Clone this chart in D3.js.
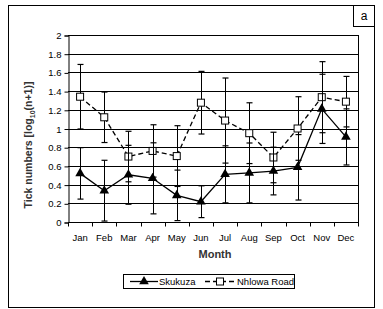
<!DOCTYPE html>
<html>
<head>
<meta charset="UTF-8" />
<title>Tick numbers by month</title>
<script src="https://cdn.jsdelivr.net/npm/d3@7/dist/d3.min.js"></script>
<style>
  html, body { margin: 0; padding: 0; background: #fff; }
  svg { display: block; font-family: "Liberation Sans", Arial, sans-serif; }
</style>
</head>
<body>
<div id="chart"></div>
<script>
// data
const months = ["Jan","Feb","Mar","Apr","May","Jun","Jul","Aug","Sep","Oct","Nov","Dec"];
const skukuza     = [0.52, 0.335, 0.505, 0.467, 0.285, 0.217, 0.51, 0.525, 0.545, 0.585, 1.21, 0.91];
const skukuzaErr  = [0.275, 0.325, 0.315, 0.38, 0.27, 0.17, 0.305, 0.32, 0.255, 0.35, 0.37, 0.30];
const nhlowa      = [1.34, 1.12, 0.70, 0.76, 0.705, 1.276, 1.085, 0.95, 0.69, 1.00, 1.335, 1.287];
const nhlowaErr   = [0.345, 0.27, 0.27, 0.28, 0.325, 0.335, 0.455, 0.325, 0.27, 0.34, 0.38, 0.27];
const yTicks = [0, 0.2, 0.4, 0.6, 0.8, 1, 1.2, 1.4, 1.6, 1.8, 2];

const W = 383, H = 309;
const plot = { left: 68, right: 358, top: 35, bottom: 222 };

const svg = d3.select("#chart").append("svg")
  .attr("width", W).attr("height", H);

// outer frame + panel letter
svg.append("rect").attr("x", 8.5).attr("y", 5.5).attr("width", 366).attr("height", 302)
  .attr("fill", "none").attr("stroke", "#000");
svg.append("rect").attr("x", 353.5).attr("y", 5.5).attr("width", 21).attr("height", 21)
  .attr("fill", "none").attr("stroke", "#000");
svg.append("text").attr("x", 364).attr("y", 20).attr("text-anchor", "middle")
  .attr("font-size", 12).text("a");

const x = d3.scaleBand().domain(months).range([plot.left, plot.right]);
const y = d3.scaleLinear().domain([0, 2]).range([plot.bottom, plot.top]);
const cx = m => x(m) + x.bandwidth() / 2;

// gridlines
svg.append("g").selectAll("line").data(yTicks.slice(1)).enter().append("line")
  .attr("x1", plot.left).attr("x2", plot.right)
  .attr("y1", d => Math.round(y(d)) + 0.5).attr("y2", d => Math.round(y(d)) + 0.5)
  .attr("stroke", "#000");
svg.append("line").attr("x1", plot.right + 0.5).attr("x2", plot.right + 0.5)
  .attr("y1", plot.top).attr("y2", plot.bottom).attr("stroke", "#000");

// y axis
const yAxis = svg.append("g").attr("transform", `translate(${plot.left + 0.5},0.5)`)
  .call(d3.axisLeft(y).tickValues(yTicks).tickSize(4).tickPadding(3).tickFormat(d3.format("~g")));
yAxis.select(".domain").attr("stroke", "#000");
yAxis.selectAll("text").attr("font-size", 9.5).attr("fill", "#000")
  .attr("font-family", "Liberation Sans, Arial, sans-serif");

// x axis: ticks on band edges
const xAxis = svg.append("g").attr("transform", `translate(0,${plot.bottom + 0.5})`);
xAxis.append("line").attr("x1", plot.left).attr("x2", plot.right + 1).attr("stroke", "#000");
xAxis.selectAll("line.tk").data(d3.range(13)).enter().append("line").attr("class", "tk")
  .attr("x1", i => Math.round(plot.left + i * x.step()) + 0.5)
  .attr("x2", i => Math.round(plot.left + i * x.step()) + 0.5)
  .attr("y1", 0).attr("y2", 4).attr("stroke", "#000");
xAxis.selectAll("text").data(months).enter().append("text")
  .attr("x", cx).attr("y", 18).attr("text-anchor", "middle")
  .attr("font-size", 9.5).attr("fill", "#000").text(d => d);

// axis titles
svg.append("text").attr("x", 215).attr("y", 258).attr("text-anchor", "middle")
  .attr("font-size", 11).attr("font-weight", "bold").attr("fill", "#333").text("Month");
const yt = svg.append("text").attr("transform", "translate(32,145) rotate(-90)")
  .attr("text-anchor", "middle").attr("font-size", 10.5).attr("font-weight", "bold").attr("fill", "#333");
yt.append("tspan").text("Tick numbers [log");
yt.append("tspan").attr("font-size", 7).attr("dy", 3).text("10");
yt.append("tspan").attr("dy", -3).text("(n+1)]");

function series(vals, errs, dashed, marker) {
  const g = svg.append("g");
  // error bars
  months.forEach((m, i) => {
    const lo = y(vals[i] - errs[i]), hi = y(vals[i] + errs[i]), px = Math.round(cx(m)) + 0.5;
    g.append("line").attr("x1", px).attr("x2", px).attr("y1", lo).attr("y2", hi).attr("stroke", "#000");
    [lo, hi].forEach(v => g.append("line").attr("x1", px - 3).attr("x2", px + 3)
      .attr("y1", v).attr("y2", v).attr("stroke", "#000").attr("stroke-width", 1.2));
  });
  const line = d3.line().x((d, i) => cx(months[i])).y(d => y(d));
  g.append("path").datum(vals).attr("d", line).attr("fill", "none").attr("stroke", "#000")
    .attr("stroke-width", 1.3).attr("stroke-dasharray", dashed ? "5,3" : null);
  months.forEach((m, i) => drawMarker(g, marker, cx(m), y(vals[i])));
}

function drawMarker(g, marker, px, py) {
  if (marker === "tri") {
    g.append("path").attr("d", d3.symbol(d3.symbolTriangle, 40)())
      .attr("transform", `translate(${px},${py})`).attr("fill", "#000");
  } else {
    g.append("rect").attr("x", px - 3.5).attr("y", py - 3.5).attr("width", 7).attr("height", 7)
      .attr("fill", "#fff").attr("stroke", "#000").attr("stroke-width", 1);
  }
}

series(nhlowa, nhlowaErr, true, "sq");
series(skukuza, skukuzaErr, false, "tri");

// legend
const lg = svg.append("g");
lg.append("rect").attr("x", 123.5).attr("y", 274.5).attr("width", 171).attr("height", 14)
  .attr("fill", "#fff").attr("stroke", "#000");
lg.append("line").attr("x1", 130).attr("x2", 158).attr("y1", 281.5).attr("y2", 281.5).attr("stroke", "#000").attr("stroke-width", 1.3);
drawMarker(lg, "tri", 144, 281.5);
lg.append("text").attr("x", 159).attr("y", 285).attr("font-size", 9.5).attr("fill", "#000").text("Skukuza");
lg.append("line").attr("x1", 205).attr("x2", 235).attr("y1", 281.5).attr("y2", 281.5).attr("stroke", "#000")
  .attr("stroke-width", 1.3).attr("stroke-dasharray", "5,3");
drawMarker(lg, "sq", 220, 281.5);
lg.append("text").attr("x", 237).attr("y", 285).attr("font-size", 9.5).attr("fill", "#000").text("Nhlowa Road");
</script>
</body>
</html>
